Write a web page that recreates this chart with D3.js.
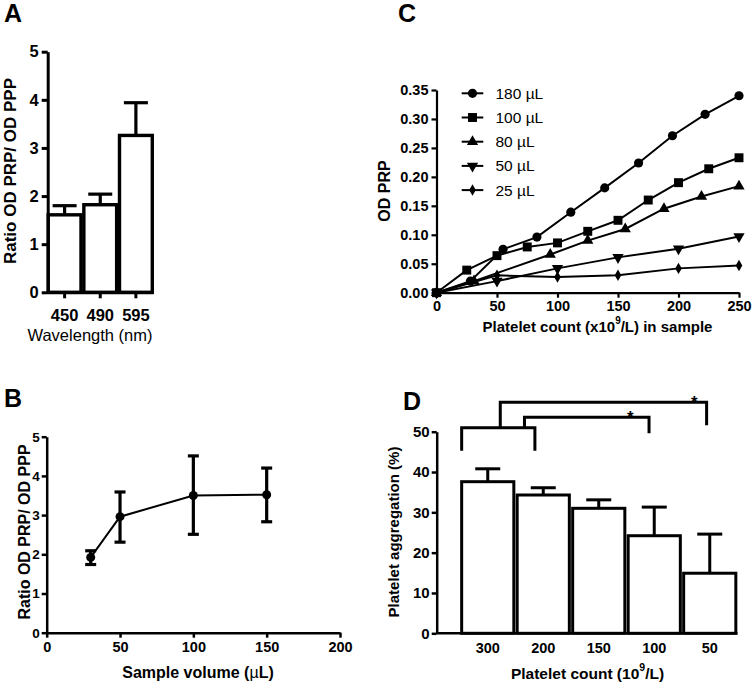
<!DOCTYPE html>
<html>
<head>
<meta charset="utf-8">
<script src="https://cdn.jsdelivr.net/npm/d3@7"></script>
<style>
  body { margin: 0; background: #fff; }
  svg { display: block; font-family: "Liberation Sans", Arial, Helvetica, sans-serif; }
</style>
</head>
<body>
<svg id="chart" width="752" height="682"></svg>
<script>
// ---------- DATA ----------
// Panel A
const aCategories = ["450", "490", "595"];
const aMeans = [1.61, 1.82, 3.26];
const aUpper = [1.80, 2.04, 3.94];
const aYTicks = [0, 1, 2, 3, 4, 5];

// Panel B
const bVolumes = [30, 50, 100, 150];
const bMeans = [1.92, 2.96, 3.50, 3.52];
const bUpper = [2.09, 3.59, 4.51, 4.20];
const bLower = [1.74, 2.31, 2.51, 2.83];
const bXTicks = [0, 50, 100, 150, 200];
const bYTicks = [0, 1, 2, 3, 4, 5];

// Panel C
const cSeriesNames = ["180 µL", "100 µL", "80 µL", "50 µL", "25 µL"];
const c180x = [0, 28, 55, 83, 111, 139, 167, 195, 222, 250];
const c180y = [0, 0.020, 0.075, 0.096, 0.139, 0.181, 0.224, 0.271, 0.308, 0.340];
const c100x = [0, 25, 50, 75, 100, 125, 150, 175, 200, 225, 250];
const c100y = [0, 0.039, 0.064, 0.079, 0.086, 0.106, 0.125, 0.160, 0.190, 0.214, 0.233];
const c80x = [0, 31, 94, 125, 156, 188, 219, 250];
const c80y = [0, 0.020, 0.066, 0.090, 0.110, 0.145, 0.166, 0.184];
const c50x = [0, 50, 100, 150, 200, 250];
const c50y = [0, 0.020, 0.042, 0.061, 0.076, 0.097];
const c25x = [0, 50, 100, 150, 200, 250];
const c25y = [0, 0.030, 0.027, 0.030, 0.042, 0.047];
const cXTicks = [0, 50, 100, 150, 200, 250];
const cYTicks = [0, 0.05, 0.10, 0.15, 0.20, 0.25, 0.30, 0.35];

// Panel D
const dCategories = ["300", "200", "150", "100", "50"];
const dMeans = [37.6, 34.3, 31.0, 24.2, 14.9];
const dUpper = [40.8, 36.1, 33.1, 31.3, 24.6];
const dYTicks = [0, 10, 20, 30, 40, 50];
// significance brackets (x as category + fraction of bar width, y in %)
const dBracketFrom = ["300", "300", "200"];
const dBracketFromFrac = [0, 0.74, 0.14];
const dBracketTo = ["200", "50", "100"];
const dBracketToFrac = [0.34, 0.44, 0.40];
const dBracketTop = [51.0, 57.3, 53.6];
const dBracketLegFrom = [45.3, 51.0, 51.0];
const dBracketLegTo = [45.3, 51.6, 49.6];
const dBracketLabel = ["", "*", "*"];
const dBracketStarFrac = [0, 0.94, 0.85];

// ---------- DRAW ----------
const svg = d3.select("#chart");
const FONT = "'Liberation Sans', Arial, Helvetica, sans-serif";

function styleAxis(g, width, fontSize) {
  g.select(".domain").attr("stroke", "#000").attr("stroke-width", width);
  g.selectAll(".tick line").attr("stroke", "#000").attr("stroke-width", width);
  g.selectAll(".tick text").attr("fill", "#000")
    .attr("font-family", FONT).attr("font-weight", "bold").attr("font-size", fontSize);
}
function panelLetter(t, x, y) {
  svg.append("text").attr("x", x).attr("y", y).attr("font-size", 25)
    .attr("font-weight", "bold").attr("font-family", FONT).text(t);
}
function yTitle(t, x, y, size) {
  svg.append("text").attr("transform", `translate(${x},${y}) rotate(-90)`)
    .attr("text-anchor", "middle").attr("dominant-baseline", "central")
    .attr("font-size", size).attr("font-weight", "bold").attr("font-family", FONT).text(t);
}

// ===== Panel A =====
{
  const x = d3.scaleBand().domain(aCategories).range([47.5, 153]).paddingInner(0.08).paddingOuter(0.02);
  const y = d3.scaleLinear().domain([0, 5]).range([292.3, 51.7]);
  const g = svg.append("g");
  const bw = x.bandwidth();
  aCategories.forEach((c, i) => {
    const cx = x(c) + bw / 2;
    g.append("line").attr("x1", cx).attr("x2", cx).attr("y1", y(aMeans[i])).attr("y2", y(aUpper[i]))
      .attr("stroke", "#000").attr("stroke-width", 3.2);
    g.append("line").attr("x1", cx - 12).attr("x2", cx + 12).attr("y1", y(aUpper[i])).attr("y2", y(aUpper[i]))
      .attr("stroke", "#000").attr("stroke-width", 3.2);
  });
  g.selectAll("rect").data(aCategories).join("rect")
    .attr("x", d => x(d)).attr("width", bw)
    .attr("y", (d, i) => y(aMeans[i])).attr("height", (d, i) => y(0) - y(aMeans[i]))
    .attr("fill", "#fff").attr("stroke", "#000").attr("stroke-width", 3.4);
  const ya = g.append("g").attr("transform", "translate(47.7,0)")
    .call(d3.axisLeft(y).tickValues(aYTicks).tickFormat(d3.format("d")).tickSize(6).tickSizeOuter(0).tickPadding(3));
  styleAxis(ya, 3, 16.5);
  const xa = g.append("g").attr("transform", "translate(0,292.3)")
    .call(d3.axisBottom(x).tickSize(6).tickSizeOuter(0).tickPadding(11));
  styleAxis(xa, 3, 16.5);
  svg.append("text").attr("x", 90).attr("y", 335).attr("text-anchor", "middle")
    .attr("dominant-baseline", "central").attr("font-size", 16.5).attr("font-family", FONT).text("Wavelength (nm)");
  yTitle("Ratio OD PRP/ OD PPP", 10, 171, 17);
  panelLetter("A", 4, 22);
}

// ===== Panel B =====
{
  const x = d3.scaleLinear().domain([0, 200]).range([46.7, 340]);
  const y = d3.scaleLinear().domain([0, 5]).range([632.7, 436.7]);
  const g = svg.append("g");
  const xa = g.append("g").attr("transform", "translate(0,632.7)")
    .call(d3.axisBottom(x).tickValues(bXTicks).tickFormat(d3.format("d")).tickSize(5).tickSizeOuter(0).tickPadding(4));
  styleAxis(xa, 2.5, 14.5);
  const ya = g.append("g").attr("transform", "translate(46.7,0)")
    .call(d3.axisLeft(y).tickValues(bYTicks).tickFormat(d3.format("d")).tickSize(5).tickSizeOuter(0).tickPadding(2));
  styleAxis(ya, 2.5, 13.5);
  bVolumes.forEach((v, i) => {
    const cx = x(v);
    g.append("line").attr("x1", cx).attr("x2", cx).attr("y1", y(bLower[i])).attr("y2", y(bUpper[i]))
      .attr("stroke", "#000").attr("stroke-width", 3.2);
    [bLower[i], bUpper[i]].forEach(e => {
      g.append("line").attr("x1", cx - 5.5).attr("x2", cx + 5.5).attr("y1", y(e)).attr("y2", y(e))
        .attr("stroke", "#000").attr("stroke-width", 3.2);
    });
  });
  const line = d3.line().x((d, i) => x(bVolumes[i])).y(d => y(d));
  g.append("path").attr("d", line(bMeans)).attr("fill", "none").attr("stroke", "#000").attr("stroke-width", 2);
  g.selectAll("circle").data(bMeans).join("circle")
    .attr("cx", (d, i) => x(bVolumes[i])).attr("cy", d => y(d)).attr("r", 4.5).attr("fill", "#000");
  const t = svg.append("text").attr("x", 198).attr("y", 672).attr("text-anchor", "middle")
    .attr("dominant-baseline", "central").attr("font-size", 16).attr("font-weight", "bold").attr("font-family", FONT);
  t.append("tspan").text("Sample volume (");
  t.append("tspan").attr("font-weight", "normal").text("µ");
  t.append("tspan").text("L)");
  yTitle("Ratio OD PRP/ OD PPP", 24, 532, 16);
  panelLetter("B", 4, 407);
}

// ===== Panel C =====
{
  const x = d3.scaleLinear().domain([0, 250]).range([436.5, 739]);
  const y = d3.scaleLinear().domain([0, 0.35]).range([292.7, 90]);
  const g = svg.append("g");
  const xa = g.append("g").attr("transform", "translate(0,292.7)")
    .call(d3.axisBottom(x).tickValues(cXTicks).tickSize(5).tickSizeOuter(0).tickPadding(3));
  styleAxis(xa, 2.2, 14.5);
  const ya = g.append("g").attr("transform", "translate(436.5,0)")
    .call(d3.axisLeft(y).tickValues(cYTicks).tickFormat(d3.format(".2f")).tickSize(5).tickSizeOuter(0).tickPadding(3));
  styleAxis(ya, 2.2, 14.5);

  const xs = [c180x, c100x, c80x, c50x, c25x];
  const ys = [c180y, c100y, c80y, c50y, c25y];
  const symbols = [
    d3.symbol().type(d3.symbolCircle).size(66),
    d3.symbol().type(d3.symbolSquare).size(80),
    d3.symbol().type(d3.symbolTriangle).size(55),
    d3.symbol().type(d3.symbolTriangle).size(55),
    d3.symbol().type(d3.symbolDiamond).size(38)
  ];
  const rot = [0, 0, 0, 180, 0];
  const line = d3.line();
  xs.forEach((sx, k) => {
    const pts = sx.map((v, i) => [x(v), y(ys[k][i])]);
    g.append("path").attr("d", line(pts)).attr("fill", "none").attr("stroke", "#000").attr("stroke-width", 2);
  });
  xs.forEach((sx, k) => {
    sx.forEach((v, i) => {
      g.append("path").attr("d", symbols[k]())
        .attr("transform", `translate(${x(v)},${y(ys[k][i])}) rotate(${rot[k]})`).attr("fill", "#000");
    });
  });
  // legend
  cSeriesNames.forEach((n, k) => {
    const ly = 93.3 + k * 24.2;
    g.append("line").attr("x1", 461.7).attr("x2", 483.3).attr("y1", ly).attr("y2", ly)
      .attr("stroke", "#000").attr("stroke-width", 2);
    g.append("path").attr("d", symbols[k]()).attr("transform", `translate(472.5,${ly}) rotate(${rot[k]})`).attr("fill", "#000");
    g.append("text").attr("x", 495.5).attr("y", ly).attr("dominant-baseline", "central")
      .attr("font-size", 15.5).attr("font-family", FONT).text(n);
  });
  const t = svg.append("text").attr("x", 597.5).attr("y", 326).attr("text-anchor", "middle")
    .attr("dominant-baseline", "central").attr("font-size", 15).attr("font-weight", "bold").attr("font-family", FONT);
  t.append("tspan").text("Platelet count (x10");
  t.append("tspan").attr("font-size", 10).attr("dy", -6).text("9");
  t.append("tspan").attr("dy", 6).text("/L) in sample");
  yTitle("OD PRP", 384, 191, 16);
  panelLetter("C", 398, 22);
}

// ===== Panel D =====
{
  const x = d3.scaleBand().domain(dCategories).range([460, 737.5]).paddingInner(0.06).paddingOuter(0.03);
  const y = d3.scaleLinear().domain([0, 50]).range([633.3, 431.7]);
  const g = svg.append("g");
  const bw = x.bandwidth();
  dCategories.forEach((c, i) => {
    const cx = x(c) + bw / 2;
    g.append("line").attr("x1", cx).attr("x2", cx).attr("y1", y(dMeans[i])).attr("y2", y(dUpper[i]))
      .attr("stroke", "#000").attr("stroke-width", 3);
    g.append("line").attr("x1", cx - 12.5).attr("x2", cx + 12.5).attr("y1", y(dUpper[i])).attr("y2", y(dUpper[i]))
      .attr("stroke", "#000").attr("stroke-width", 3);
  });
  g.selectAll("rect").data(dCategories).join("rect")
    .attr("x", d => x(d)).attr("width", bw)
    .attr("y", (d, i) => y(dMeans[i])).attr("height", (d, i) => y(0) - y(dMeans[i]))
    .attr("fill", "#fff").attr("stroke", "#000").attr("stroke-width", 3);
  const xa = g.append("g").attr("transform", "translate(0,633.3)")
    .call(d3.axisBottom(x).tickSize(0).tickSizeOuter(0).tickPadding(9));
  xa.select(".domain").remove();
  styleAxis(xa, 2.5, 14.5);
  g.append("line").attr("x1", 436.7).attr("x2", x.range()[1]).attr("y1", y(0)).attr("y2", y(0))
    .attr("stroke", "#000").attr("stroke-width", 2.5);
  const ya = g.append("g").attr("transform", "translate(436.7,0)")
    .call(d3.axisLeft(y).tickValues(dYTicks).tickSize(5).tickSizeOuter(0).tickPadding(2));
  styleAxis(ya, 2.5, 15);
  // brackets
  dBracketFrom.forEach((f, i) => {
    const x1 = x(f) + dBracketFromFrac[i] * bw;
    const x2 = x(dBracketTo[i]) + dBracketToFrac[i] * bw;
    const yt = y(dBracketTop[i]);
    g.append("path")
      .attr("d", `M${x1},${y(dBracketLegFrom[i])}V${yt}H${x2}V${y(dBracketLegTo[i])}`)
      .attr("fill", "none").attr("stroke", "#000").attr("stroke-width", 3);
    if (dBracketLabel[i]) {
      g.append("text").attr("x", x1 + (x2 - x1) * dBracketStarFrac[i]).attr("y", yt + 6)
        .attr("text-anchor", "middle").attr("font-size", 17).attr("font-weight", "bold")
        .attr("font-family", FONT).text(dBracketLabel[i]);
    }
  });
  const t = svg.append("text").attr("x", 587.5).attr("y", 673).attr("text-anchor", "middle")
    .attr("dominant-baseline", "central").attr("font-size", 15.5).attr("font-weight", "bold").attr("font-family", FONT);
  t.append("tspan").text("Platelet count (10");
  t.append("tspan").attr("font-size", 10.5).attr("dy", -6).text("9");
  t.append("tspan").attr("dy", 6).text("/L)");
  yTitle("Platelet aggregation (%)", 393, 532, 15);
  panelLetter("D", 403, 410);
}
</script>
</body>
</html>
